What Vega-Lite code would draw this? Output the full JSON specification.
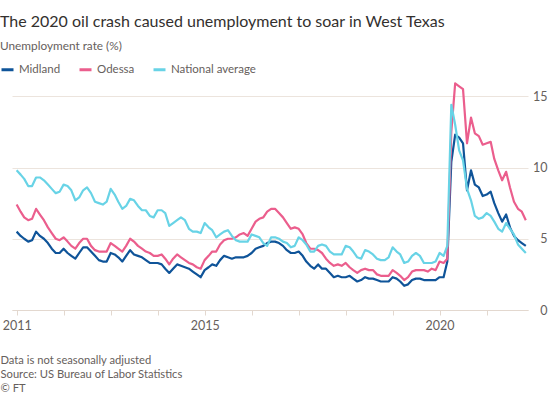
{
  "$schema": "https://vega.github.io/schema/vega-lite/v6.json",
  "width": 516,
  "height": 228,
  "autosize": {"type": "none"},
  "padding": {"left": 12, "top": 82, "right": 22, "bottom": 83},
  "background": "#ffffff",
  "title": {
    "text": "The 2020 oil crash caused unemployment to soar in West Texas",
    "subtitle": "Unemployment rate (%)",
    "anchor": "start",
    "frame": "group",
    "dx": -12,
    "offset": 9,
    "font": "Lato",
    "fontSize": 16,
    "fontWeight": "normal",
    "color": "#33302e",
    "subtitleFont": "Lato",
    "subtitleFontSize": 11.8,
    "subtitleColor": "#66605c",
    "subtitlePadding": 11
  },
  "data": {
    "values": [
      {"d": "2011-01-01", "Midland": 5.5, "Odessa": 7.4, "National average": 9.8},
      {"d": "2011-02-01", "Midland": 5.2, "Odessa": 6.9, "National average": 9.5},
      {"d": "2011-03-01", "Midland": 5.0, "Odessa": 6.5, "National average": 9.2},
      {"d": "2011-04-01", "Midland": 4.8, "Odessa": 6.3, "National average": 8.7},
      {"d": "2011-05-01", "Midland": 4.9, "Odessa": 6.4, "National average": 8.7},
      {"d": "2011-06-01", "Midland": 5.5, "Odessa": 7.1, "National average": 9.3},
      {"d": "2011-07-01", "Midland": 5.2, "Odessa": 6.7, "National average": 9.3},
      {"d": "2011-08-01", "Midland": 5.0, "Odessa": 6.3, "National average": 9.1},
      {"d": "2011-09-01", "Midland": 4.7, "Odessa": 5.8, "National average": 8.8},
      {"d": "2011-10-01", "Midland": 4.3, "Odessa": 5.4, "National average": 8.5},
      {"d": "2011-11-01", "Midland": 4.0, "Odessa": 5.0, "National average": 8.2},
      {"d": "2011-12-01", "Midland": 4.0, "Odessa": 4.9, "National average": 8.3},
      {"d": "2012-01-01", "Midland": 4.3, "Odessa": 5.1, "National average": 8.8},
      {"d": "2012-02-01", "Midland": 4.0, "Odessa": 4.8, "National average": 8.7},
      {"d": "2012-03-01", "Midland": 3.8, "Odessa": 4.5, "National average": 8.4},
      {"d": "2012-04-01", "Midland": 3.6, "Odessa": 4.3, "National average": 7.7},
      {"d": "2012-05-01", "Midland": 4.0, "Odessa": 4.7, "National average": 7.9},
      {"d": "2012-06-01", "Midland": 4.4, "Odessa": 5.0, "National average": 8.4},
      {"d": "2012-07-01", "Midland": 4.4, "Odessa": 5.0, "National average": 8.6},
      {"d": "2012-08-01", "Midland": 4.1, "Odessa": 4.5, "National average": 8.2},
      {"d": "2012-09-01", "Midland": 3.8, "Odessa": 4.2, "National average": 7.6},
      {"d": "2012-10-01", "Midland": 3.5, "Odessa": 4.1, "National average": 7.5},
      {"d": "2012-11-01", "Midland": 3.4, "Odessa": 4.1, "National average": 7.4},
      {"d": "2012-12-01", "Midland": 3.4, "Odessa": 4.1, "National average": 7.6},
      {"d": "2013-01-01", "Midland": 4.0, "Odessa": 4.7, "National average": 8.5},
      {"d": "2013-02-01", "Midland": 3.9, "Odessa": 4.5, "National average": 8.1},
      {"d": "2013-03-01", "Midland": 3.7, "Odessa": 4.3, "National average": 7.6},
      {"d": "2013-04-01", "Midland": 3.4, "Odessa": 4.1, "National average": 7.1},
      {"d": "2013-05-01", "Midland": 3.8, "Odessa": 4.5, "National average": 7.3},
      {"d": "2013-06-01", "Midland": 4.2, "Odessa": 5.0, "National average": 7.8},
      {"d": "2013-07-01", "Midland": 3.9, "Odessa": 4.8, "National average": 7.7},
      {"d": "2013-08-01", "Midland": 3.8, "Odessa": 4.5, "National average": 7.3},
      {"d": "2013-09-01", "Midland": 3.7, "Odessa": 4.3, "National average": 7.0},
      {"d": "2013-10-01", "Midland": 3.5, "Odessa": 4.1, "National average": 7.0},
      {"d": "2013-11-01", "Midland": 3.3, "Odessa": 4.0, "National average": 6.6},
      {"d": "2013-12-01", "Midland": 3.3, "Odessa": 3.8, "National average": 6.5},
      {"d": "2014-01-01", "Midland": 3.3, "Odessa": 3.8, "National average": 7.0},
      {"d": "2014-02-01", "Midland": 3.2, "Odessa": 3.9, "National average": 7.0},
      {"d": "2014-03-01", "Midland": 2.9, "Odessa": 3.6, "National average": 6.8},
      {"d": "2014-04-01", "Midland": 2.6, "Odessa": 3.2, "National average": 5.9},
      {"d": "2014-05-01", "Midland": 2.9, "Odessa": 3.6, "National average": 6.1},
      {"d": "2014-06-01", "Midland": 3.2, "Odessa": 3.9, "National average": 6.3},
      {"d": "2014-07-01", "Midland": 3.1, "Odessa": 3.7, "National average": 6.5},
      {"d": "2014-08-01", "Midland": 3.0, "Odessa": 3.5, "National average": 6.3},
      {"d": "2014-09-01", "Midland": 2.9, "Odessa": 3.3, "National average": 5.7},
      {"d": "2014-10-01", "Midland": 2.7, "Odessa": 3.2, "National average": 5.5},
      {"d": "2014-11-01", "Midland": 2.5, "Odessa": 3.0, "National average": 5.5},
      {"d": "2014-12-01", "Midland": 2.3, "Odessa": 2.9, "National average": 5.4},
      {"d": "2015-01-01", "Midland": 2.8, "Odessa": 3.5, "National average": 6.1},
      {"d": "2015-02-01", "Midland": 3.0, "Odessa": 3.8, "National average": 5.8},
      {"d": "2015-03-01", "Midland": 3.2, "Odessa": 4.1, "National average": 5.6},
      {"d": "2015-04-01", "Midland": 3.1, "Odessa": 4.1, "National average": 5.1},
      {"d": "2015-05-01", "Midland": 3.5, "Odessa": 4.6, "National average": 5.3},
      {"d": "2015-06-01", "Midland": 3.8, "Odessa": 4.9, "National average": 5.5},
      {"d": "2015-07-01", "Midland": 3.7, "Odessa": 5.0, "National average": 5.6},
      {"d": "2015-08-01", "Midland": 3.6, "Odessa": 5.0, "National average": 5.2},
      {"d": "2015-09-01", "Midland": 3.7, "Odessa": 5.1, "National average": 4.9},
      {"d": "2015-10-01", "Midland": 3.7, "Odessa": 5.3, "National average": 4.8},
      {"d": "2015-11-01", "Midland": 3.7, "Odessa": 5.4, "National average": 4.8},
      {"d": "2015-12-01", "Midland": 3.8, "Odessa": 5.2, "National average": 4.8},
      {"d": "2016-01-01", "Midland": 4.0, "Odessa": 5.7, "National average": 5.3},
      {"d": "2016-02-01", "Midland": 4.3, "Odessa": 6.2, "National average": 5.2},
      {"d": "2016-03-01", "Midland": 4.4, "Odessa": 6.4, "National average": 5.1},
      {"d": "2016-04-01", "Midland": 4.5, "Odessa": 6.5, "National average": 4.7},
      {"d": "2016-05-01", "Midland": 4.7, "Odessa": 6.9, "National average": 4.5},
      {"d": "2016-06-01", "Midland": 4.8, "Odessa": 7.1, "National average": 5.1},
      {"d": "2016-07-01", "Midland": 4.8, "Odessa": 7.1, "National average": 5.1},
      {"d": "2016-08-01", "Midland": 4.7, "Odessa": 6.8, "National average": 5.0},
      {"d": "2016-09-01", "Midland": 4.5, "Odessa": 6.5, "National average": 4.8},
      {"d": "2016-10-01", "Midland": 4.2, "Odessa": 6.1, "National average": 4.7},
      {"d": "2016-11-01", "Midland": 4.0, "Odessa": 5.7, "National average": 4.4},
      {"d": "2016-12-01", "Midland": 4.0, "Odessa": 5.8, "National average": 4.5},
      {"d": "2017-01-01", "Midland": 4.1, "Odessa": 5.7, "National average": 5.1},
      {"d": "2017-02-01", "Midland": 3.8, "Odessa": 5.3, "National average": 4.9},
      {"d": "2017-03-01", "Midland": 3.4, "Odessa": 4.7, "National average": 4.6},
      {"d": "2017-04-01", "Midland": 3.1, "Odessa": 4.3, "National average": 4.1},
      {"d": "2017-05-01", "Midland": 2.9, "Odessa": 4.3, "National average": 4.1},
      {"d": "2017-06-01", "Midland": 3.2, "Odessa": 4.2, "National average": 4.5},
      {"d": "2017-07-01", "Midland": 2.9, "Odessa": 4.0, "National average": 4.6},
      {"d": "2017-08-01", "Midland": 2.9, "Odessa": 3.6, "National average": 4.5},
      {"d": "2017-09-01", "Midland": 2.6, "Odessa": 3.3, "National average": 4.1},
      {"d": "2017-10-01", "Midland": 2.3, "Odessa": 3.1, "National average": 3.9},
      {"d": "2017-11-01", "Midland": 2.4, "Odessa": 3.2, "National average": 3.9},
      {"d": "2017-12-01", "Midland": 2.3, "Odessa": 3.1, "National average": 3.9},
      {"d": "2018-01-01", "Midland": 2.3, "Odessa": 3.3, "National average": 4.5},
      {"d": "2018-02-01", "Midland": 2.4, "Odessa": 3.0, "National average": 4.4},
      {"d": "2018-03-01", "Midland": 2.2, "Odessa": 2.8, "National average": 4.1},
      {"d": "2018-04-01", "Midland": 2.0, "Odessa": 2.6, "National average": 3.7},
      {"d": "2018-05-01", "Midland": 2.1, "Odessa": 2.8, "National average": 3.6},
      {"d": "2018-06-01", "Midland": 2.3, "Odessa": 2.9, "National average": 4.2},
      {"d": "2018-07-01", "Midland": 2.2, "Odessa": 2.8, "National average": 4.1},
      {"d": "2018-08-01", "Midland": 2.2, "Odessa": 2.8, "National average": 3.9},
      {"d": "2018-09-01", "Midland": 2.1, "Odessa": 2.5, "National average": 3.6},
      {"d": "2018-10-01", "Midland": 2.0, "Odessa": 2.4, "National average": 3.5},
      {"d": "2018-11-01", "Midland": 2.0, "Odessa": 2.4, "National average": 3.5},
      {"d": "2018-12-01", "Midland": 2.0, "Odessa": 2.4, "National average": 3.7},
      {"d": "2019-01-01", "Midland": 2.3, "Odessa": 2.8, "National average": 4.4},
      {"d": "2019-02-01", "Midland": 2.2, "Odessa": 2.6, "National average": 4.1},
      {"d": "2019-03-01", "Midland": 2.0, "Odessa": 2.4, "National average": 3.9},
      {"d": "2019-04-01", "Midland": 1.7, "Odessa": 2.1, "National average": 3.3},
      {"d": "2019-05-01", "Midland": 1.8, "Odessa": 2.3, "National average": 3.4},
      {"d": "2019-06-01", "Midland": 2.1, "Odessa": 2.7, "National average": 3.8},
      {"d": "2019-07-01", "Midland": 2.2, "Odessa": 2.8, "National average": 4.0},
      {"d": "2019-08-01", "Midland": 2.2, "Odessa": 2.8, "National average": 3.8},
      {"d": "2019-09-01", "Midland": 2.1, "Odessa": 2.8, "National average": 3.3},
      {"d": "2019-10-01", "Midland": 2.1, "Odessa": 2.7, "National average": 3.3},
      {"d": "2019-11-01", "Midland": 2.1, "Odessa": 2.9, "National average": 3.3},
      {"d": "2019-12-01", "Midland": 2.1, "Odessa": 2.8, "National average": 3.4},
      {"d": "2020-01-01", "Midland": 2.3, "Odessa": 3.4, "National average": 4.0},
      {"d": "2020-02-01", "Midland": 2.3, "Odessa": 3.3, "National average": 3.8},
      {"d": "2020-03-01", "Midland": 3.4, "Odessa": 3.6, "National average": 4.5},
      {"d": "2020-04-01", "Midland": 10.4, "Odessa": 12.5, "National average": 14.4},
      {"d": "2020-05-01", "Midland": 12.3, "Odessa": 15.9, "National average": 13.0},
      {"d": "2020-06-01", "Midland": 12.1, "Odessa": 15.7, "National average": 11.2},
      {"d": "2020-07-01", "Midland": 11.7, "Odessa": 15.5, "National average": 10.5},
      {"d": "2020-08-01", "Midland": 8.4, "Odessa": 11.7, "National average": 8.5},
      {"d": "2020-09-01", "Midland": 9.8, "Odessa": 13.5, "National average": 7.7},
      {"d": "2020-10-01", "Midland": 8.8, "Odessa": 12.4, "National average": 6.6},
      {"d": "2020-11-01", "Midland": 8.6, "Odessa": 12.2, "National average": 6.4},
      {"d": "2020-12-01", "Midland": 8.0, "Odessa": 11.6, "National average": 6.5},
      {"d": "2021-01-01", "Midland": 8.1, "Odessa": 11.7, "National average": 6.8},
      {"d": "2021-02-01", "Midland": 8.3, "Odessa": 11.8, "National average": 6.6},
      {"d": "2021-03-01", "Midland": 7.5, "Odessa": 10.6, "National average": 6.2},
      {"d": "2021-04-01", "Midland": 6.8, "Odessa": 9.8, "National average": 5.7},
      {"d": "2021-05-01", "Midland": 6.2, "Odessa": 9.1, "National average": 5.5},
      {"d": "2021-06-01", "Midland": 6.7, "Odessa": 9.7, "National average": 6.1},
      {"d": "2021-07-01", "Midland": 5.8, "Odessa": 8.6, "National average": 5.7},
      {"d": "2021-08-01", "Midland": 5.2, "Odessa": 7.6, "National average": 5.3},
      {"d": "2021-09-01", "Midland": 4.9, "Odessa": 7.1, "National average": 4.6},
      {"d": "2021-10-01", "Midland": 4.7, "Odessa": 6.9, "National average": 4.3},
      {"d": "2021-11-01", "Midland": 4.5, "Odessa": 6.3, "National average": 4.0}
    ]
  },
  "transform": [
    {"fold": ["Midland", "Odessa", "National average"], "as": ["series", "value"]}
  ],
  "mark": {"type": "line", "strokeWidth": 2.2, "strokeJoin": "round"},
  "encoding": {
    "x": {
      "field": "d",
      "type": "temporal",
      "scale": {
        "type": "utc",
        "domain": [
          {"year": 2010, "month": 11, "date": 26, "utc": true},
          {"year": 2021, "month": 11, "date": 18, "utc": true}
        ]
      },
      "axis": {
        "values": [
          {"year": 2011, "month": 1, "date": 1, "utc": true},
          {"year": 2012, "month": 1, "date": 1, "utc": true},
          {"year": 2013, "month": 1, "date": 1, "utc": true},
          {"year": 2014, "month": 1, "date": 1, "utc": true},
          {"year": 2015, "month": 1, "date": 1, "utc": true},
          {"year": 2016, "month": 1, "date": 1, "utc": true},
          {"year": 2017, "month": 1, "date": 1, "utc": true},
          {"year": 2018, "month": 1, "date": 1, "utc": true},
          {"year": 2019, "month": 1, "date": 1, "utc": true},
          {"year": 2020, "month": 1, "date": 1, "utc": true},
          {"year": 2021, "month": 1, "date": 1, "utc": true}
        ],
        "labelExpr": "(utcyear(datum.value) == 2011 || utcyear(datum.value) == 2015 || utcyear(datum.value) == 2020) ? utcFormat(datum.value, '%Y') : ''",
        "grid": false,
        "domain": true,
        "domainColor": "#e3d8cf",
        "domainWidth": 1,
        "ticks": true,
        "tickColor": "#e3d8cf",
        "tickSize": 5,
        "labelPadding": 4,
        "labelFont": "Lato",
        "labelFontSize": 12.5,
        "labelColor": "#66605c",
        "labelFlush": false,
        "labelOverlap": false,
        "title": ["Data is not seasonally adjusted", "Source: US Bureau of Labor Statistics", "© FT"],
        "titleAnchor": "start",
        "titleAlign": "left",
        "titleBaseline": "top",
        "titleX": -12,
        "titleY": 44,
        "titleFont": "Lato",
        "titleFontSize": 11.2,
        "titleFontWeight": "normal",
        "titleColor": "#66605c",
        "titleLineHeight": 14
      }
    },
    "y": {
      "field": "value",
      "type": "quantitative",
      "scale": {"domain": [0, 16], "nice": false, "zero": true},
      "axis": {
        "orient": "right",
        "values": [0, 5, 10, 15],
        "domain": false,
        "ticks": false,
        "grid": true,
        "gridColor": "#ece4dd",
        "gridWidth": 1,
        "labelAlign": "right",
        "labelPadding": 19,
        "labelFont": "Lato",
        "labelFontSize": 12.5,
        "labelColor": "#66605c",
        "title": null
      }
    },
    "color": {
      "field": "series",
      "type": "nominal",
      "scale": {
        "domain": ["Midland", "Odessa", "National average"],
        "range": ["#0f5499", "#eb5e8d", "#68d3e6"]
      },
      "legend": {
        "orient": "none",
        "legendX": -12,
        "legendY": -20,
        "direction": "horizontal",
        "title": null,
        "symbolType": "stroke",
        "symbolStrokeWidth": 3,
        "symbolSize": 144,
        "labelFont": "Lato",
        "labelFontSize": 11.5,
        "labelColor": "#66605c",
        "labelOffset": 4,
        "columnPadding": 12
      }
    },
    "order": {"field": "series"}
  },
  "config": {"view": {"stroke": null}}
}
